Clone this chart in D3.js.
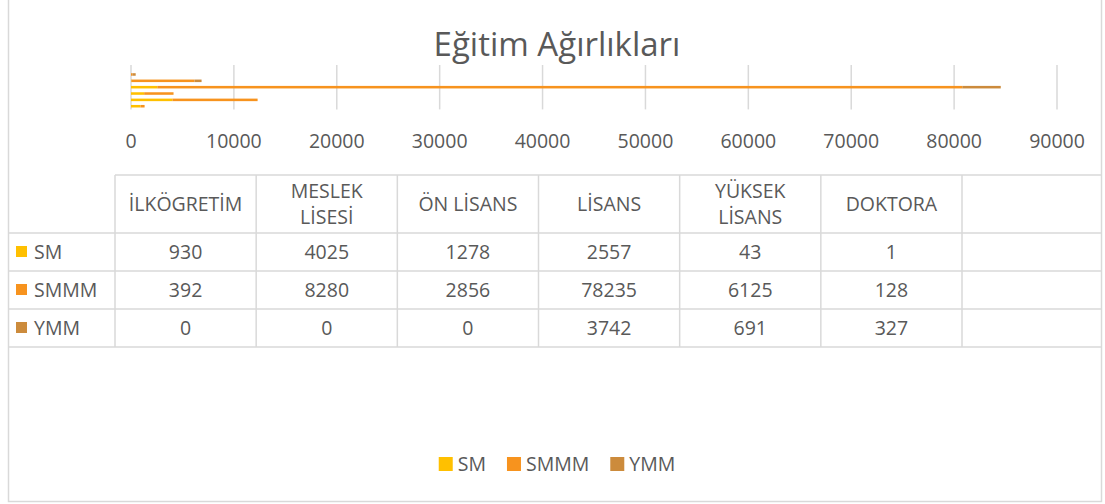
<!DOCTYPE html>
<html>
<head>
<meta charset="utf-8">
<script src="https://cdn.jsdelivr.net/npm/d3@7.9.0/dist/d3.min.js"></script>
<style>
  body { margin: 0; background: #fff; }
  text { font-family: "Open Sans", sans-serif; fill: #595959; }
</style>
</head>
<body>
<svg id="chart" width="1105" height="504"></svg>
<script>
// data
const categories = ['İLKÖGRETİM', 'MESLEK LİSESİ', 'ÖN LİSANS', 'LİSANS', 'YÜKSEK LİSANS', 'DOKTORA'];
const headerLines = [['İLKÖGRETİM'], ['MESLEK', 'LİSESİ'], ['ÖN LİSANS'], ['LİSANS'], ['YÜKSEK', 'LİSANS'], ['DOKTORA']];
const seriesNames = ['SM', 'SMMM', 'YMM'];
const smValues = [930, 4025, 1278, 2557, 43, 1];
const smmmValues = [392, 8280, 2856, 78235, 6125, 128];
const ymmValues = [0, 0, 0, 3742, 691, 327];
const xTicks = [0, 10000, 20000, 30000, 40000, 50000, 60000, 70000, 80000, 90000];
const colors = ['#FFC000', '#F7931E', '#CC8B3C'];

const svg = d3.select('#chart');
const fs = '19.5px';

// outer chart border
svg.append('rect')
  .attr('x', 8.5).attr('y', -1)
  .attr('width', 1093).attr('height', 502.5)
  .attr('fill', '#fff').attr('stroke', '#d9d9d9').attr('stroke-width', 1.5);

// title
svg.append('text')
  .attr('x', 557).attr('y', 56)
  .attr('text-anchor', 'middle')
  .style('font-size', '33px')
  .text('Eğitim Ağırlıkları');

// build rows for stacking
const rows = categories.map((c, i) => ({ cat: c, SM: smValues[i], SMMM: smmmValues[i], YMM: ymmValues[i] }));
const stacked = d3.stack().keys(seriesNames)(rows);

const x = d3.scaleLinear().domain([0, 90000]).range([131, 1057]);
// first category sits at the bottom
const y = d3.scaleBand().domain(categories.slice().reverse()).range([71.3, 109.4]).paddingInner(0.6).paddingOuter(0.3);
const plotTop = 65, plotBottom = 109.4;

// gridlines
svg.append('g').selectAll('line')
  .data(xTicks)
  .join('line')
  .attr('x1', d => x(d)).attr('x2', d => x(d))
  .attr('y1', plotTop).attr('y2', plotBottom)
  .attr('stroke', '#d9d9d9').attr('stroke-width', 1.5);

// tick labels
svg.append('g').selectAll('text')
  .data(xTicks)
  .join('text')
  .attr('x', d => x(d)).attr('y', 148)
  .attr('text-anchor', 'middle')
  .style('font-size', fs)
  .text(d => d);

// stacked bars
svg.append('g').selectAll('g')
  .data(stacked)
  .join('g')
  .attr('fill', (d, i) => colors[i])
  .selectAll('rect')
  .data(d => d)
  .join('rect')
  .attr('x', d => x(d[0]))
  .attr('y', d => y(d.data.cat))
  .attr('width', d => x(d[1]) - x(d[0]))
  .attr('height', y.bandwidth());

// data table
const col = d3.scaleBand().domain(categories).range([115, 962]);
const tableTop = 175, headerBottom = 233, rowH = 38;
const rowY = d3.scaleBand().domain(seriesNames).range([headerBottom, headerBottom + rowH * 3]);
const right = 1101.5, left = 8.5;
const grid = svg.append('g').attr('stroke', '#d9d9d9').attr('stroke-width', 1.5);

grid.append('line').attr('x1', 115).attr('x2', right).attr('y1', tableTop).attr('y2', tableTop);
seriesNames.forEach(s => {
  grid.append('line').attr('x1', left).attr('x2', right).attr('y1', rowY(s)).attr('y2', rowY(s));
});
grid.append('line').attr('x1', left).attr('x2', right)
  .attr('y1', headerBottom + rowH * 3).attr('y2', headerBottom + rowH * 3);
const colEdges = categories.map(c => col(c)).concat([col.range()[1]]);
grid.selectAll('.v')
  .data(colEdges)
  .join('line')
  .attr('x1', d => d).attr('x2', d => d)
  .attr('y1', tableTop).attr('y2', headerBottom + rowH * 3);

// header cells
const headerMid = (tableTop + headerBottom) / 2;
categories.forEach((c, i) => {
  const lines = headerLines[i];
  const t = svg.append('text')
    .attr('text-anchor', 'middle')
    .style('font-size', fs);
  lines.forEach((ln, j) => {
    t.append('tspan')
      .attr('x', col(c) + col.bandwidth() / 2)
      .attr('y', headerMid + 7 + (j - (lines.length - 1) / 2) * 26)
      .text(ln);
  });
});

// value cells and row labels
const values = [smValues, smmmValues, ymmValues];
seriesNames.forEach((s, si) => {
  const cy = rowY(s) + rowY.bandwidth() / 2;
  svg.append('rect')
    .attr('x', 16).attr('y', cy - 6)
    .attr('width', 11).attr('height', 11)
    .attr('fill', colors[si]);
  svg.append('text')
    .attr('x', 34).attr('y', cy + 7)
    .style('font-size', fs)
    .text(s);
  categories.forEach((c, ci) => {
    svg.append('text')
      .attr('x', col(c) + col.bandwidth() / 2).attr('y', cy + 7)
      .attr('text-anchor', 'middle')
      .style('font-size', fs)
      .text(values[si][ci]);
  });
});

// legend
const legend = svg.append('g');
let lx = 0;
seriesNames.forEach((s, i) => {
  const g = legend.append('g').attr('transform', `translate(${lx},0)`);
  g.append('rect').attr('x', 0).attr('y', -7).attr('width', 14).attr('height', 14).attr('fill', colors[i]);
  const t = g.append('text').attr('x', 19).attr('y', 7).style('font-size', fs).text(s);
  lx += 19 + t.node().getComputedTextLength() + 21;
});
lx -= 21;
legend.attr('transform', `translate(${557 - lx / 2},464)`);
</script>
</body>
</html>
